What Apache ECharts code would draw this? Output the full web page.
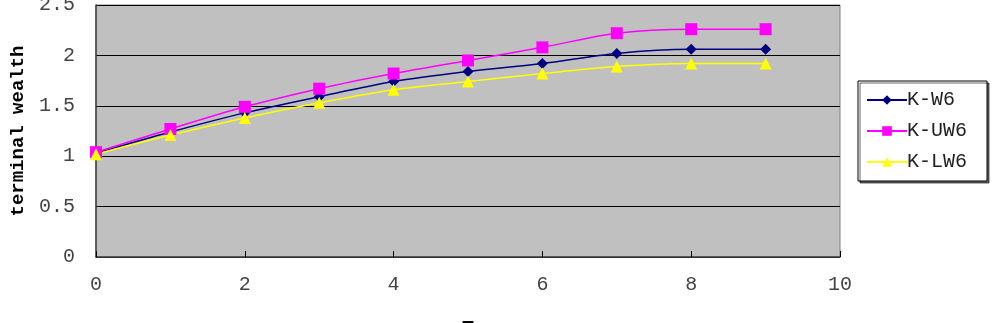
<!DOCTYPE html>
<html><head><meta charset="utf-8">
<script src="https://cdn.jsdelivr.net/npm/echarts@6/dist/echarts.min.js"></script>
<style>html,body{margin:0;padding:0;background:#fff}#c{width:1005px;height:323px}</style>
</head><body><div id="c"></div>
<script>
var xs = [0,1,2,3,4,5,6,7,8,9];
var kW6  = [1.03,1.24,1.43,1.59,1.74,1.84,1.92,2.02,2.06,2.06];
var kUW6 = [1.04,1.27,1.49,1.67,1.82,1.95,2.08,2.22,2.26,2.26];
var kLW6 = [1.02,1.21,1.38,1.53,1.66,1.74,1.82,1.89,1.92,1.92];
var names = ['K-W6','K-UW6','K-LW6'];
var xTicks = [0,2,4,6,8,10];
var yTicks = [0,0.5,1,1.5,2,2.5];

function pts(arr){ return xs.map(function(x,i){ return [x, arr[i]]; }); }
var mono = 'Liberation Mono';
var chart = echarts.init(document.getElementById('c'));
chart.setOption({
  animation:false,
  grid:{left:96,right:165,top:5,bottom:66,outerBoundsMode:'none',containLabel:false,show:true,backgroundColor:'#C0C0C0',borderColor:'#808080',borderWidth:1},
  xAxis:{type:'value',min:xTicks[0],max:xTicks[xTicks.length-1],interval:2,
    name:'T',nameLocation:'middle',nameGap:62,
    nameTextStyle:{fontFamily:mono,fontWeight:'bold',fontSize:20,color:'#000'},
    axisLine:{show:true,lineStyle:{color:'#404040',width:1.5}},
    axisTick:{show:true,inside:true,length:6,lineStyle:{color:'#000'}},
    axisLabel:{margin:18,fontFamily:mono,fontSize:20,color:'#444'},
    splitLine:{show:false}},
  yAxis:{type:'value',min:yTicks[0],max:yTicks[yTicks.length-1],interval:0.5,
    name:'terminal wealth',nameLocation:'middle',nameGap:68,
    nameTextStyle:{fontFamily:mono,fontWeight:'bold',fontSize:19,color:'#000'},
    axisLine:{show:true,lineStyle:{color:'#404040',width:1.5}},
    axisTick:{show:false},
    axisLabel:{margin:21,fontFamily:mono,fontSize:20,color:'#444'},
    splitLine:{show:true,lineStyle:{color:'#000',width:1.2}}},
  legend:{orient:'vertical',left:858,top:81,width:132,
    padding:[8,20,8,8],itemGap:9,itemWidth:40,itemHeight:12,
    backgroundColor:'#fff',borderColor:'#000',borderWidth:1,
    shadowColor:'rgba(0,0,0,0.6)',shadowOffsetX:2,shadowOffsetY:2,shadowBlur:0,
    textStyle:{fontFamily:mono,fontSize:20,lineHeight:22,color:'#222',padding:[0,0,0,-5]},
    data:names},
  series:[
    {name:names[0],type:'line',data:pts(kW6),smooth:0.3,symbol:'diamond',symbolSize:11,
      lineStyle:{color:'#000080',width:1.5},itemStyle:{color:'#000080'}},
    {name:names[1],type:'line',data:pts(kUW6),smooth:0.3,symbol:'rect',symbolSize:12,
      lineStyle:{color:'#FF00FF',width:1.5},itemStyle:{color:'#FF00FF'}},
    {name:names[2],type:'line',data:pts(kLW6),smooth:0.3,symbol:'triangle',symbolSize:12,
      lineStyle:{color:'#FFFF00',width:1.5},itemStyle:{color:'#FFFF00'}}
  ]
});
</script></body></html>
